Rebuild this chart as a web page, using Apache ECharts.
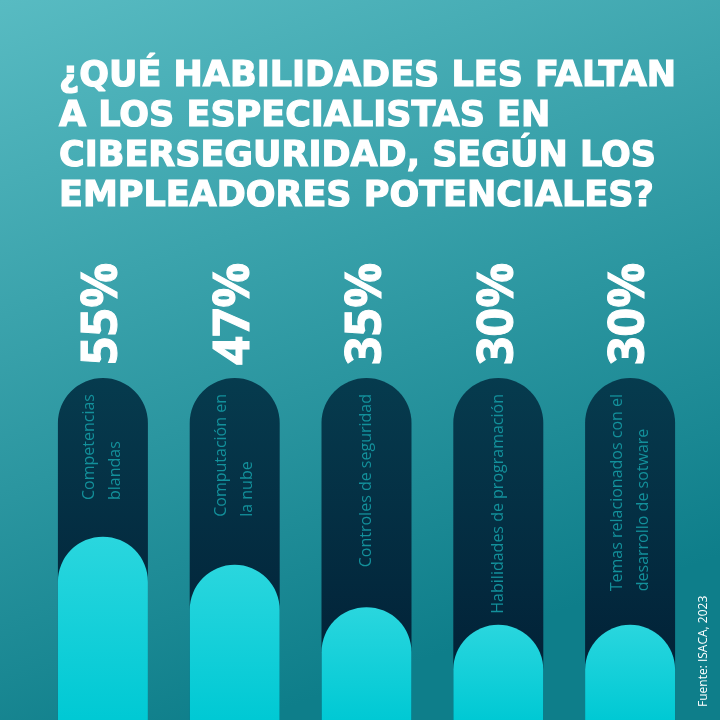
<!DOCTYPE html>
<html>
<head>
<meta charset="utf-8">
<script src="https://cdn.jsdelivr.net/npm/echarts@6/dist/echarts.min.js"></script>
<style>html,body{margin:0;padding:0;}#c{width:720px;height:720px;}</style>
</head>
<body>
<div id="c"></div>
<script>
const titleText = '¿QUÉ HABILIDADES LES FALTAN\nA LOS ESPECIALISTAS EN\nCIBERSEGURIDAD, SEGÚN LOS\nEMPLEADORES POTENCIALES?';
const categoryLines = [
  ['Competencias', 'blandas'],
  ['Computación en', 'la nube'],
  ['Controles de seguridad'],
  ['Habilidades de programación'],
  ['Temas relacionados con el', 'desarrollo de sotware']
];
const values = [55, 47, 35, 30, 30];
const fullValue = [100, 100, 100, 100, 100];
const sourceText = 'Fuente: ISACA, 2023';

const categories = categoryLines.map(l => l.join(' '));
const chart = echarts.init(document.getElementById('c'));
const FONT = '"Open Sans", "Noto Sans", sans-serif';
const TFONT = '"DejaVu Sans", sans-serif';

chart.setOption({
  animation: false,
  backgroundColor: new echarts.graphic.LinearGradient(0, 0, 0.35, 1, [
    { offset: 0, color: '#58bbc2' },
    { offset: 1, color: '#0e7e8a' }
  ]),
  title: {
    text: titleText,
    left: 54,
    top: 52,
    textStyle: {
      color: '#ffffff',
      fontFamily: TFONT,
      fontWeight: 'bold',
      fontSize: 35,
      lineHeight: 40,
      textBorderColor: '#ffffff',
      textBorderWidth: 1.2
    }
  },
  grid: { left: 37, top: 378, width: 659, bottom: 0 },
  xAxis: {
    type: 'category',
    data: categories,
    show: false
  },
  yAxis: { type: 'value', min: 3, max: 100, show: false },
  series: [
    {
      type: 'bar',
      data: fullValue,
      barWidth: 90,
      barGap: '-100%',
      z: 1,
      itemStyle: {
        borderRadius: [45, 45, 0, 0],
        color: new echarts.graphic.LinearGradient(0, 0, 0, 1, [
          { offset: 0, color: '#063b4e' },
          { offset: 1, color: '#011d33' }
        ])
      },
      label: {
        show: true,
        position: 'top',
        distance: 13,
        rotate: 90,
        align: 'left',
        verticalAlign: 'middle',
        formatter: p => values[p.dataIndex] + '%',
        color: '#ffffff',
        fontFamily: FONT,
        fontWeight: 'bold',
        fontSize: 50,
        textBorderColor: '#ffffff',
        textBorderWidth: 1
      }
    },
    {
      type: 'bar',
      data: values,
      barWidth: 90,
      barGap: '-100%',
      z: 2,
      itemStyle: {
        borderRadius: [45, 45, 0, 0],
        color: new echarts.graphic.LinearGradient(0, 0, 0, 1, [
          { offset: 0, color: '#2ad6de' },
          { offset: 1, color: '#00c9d4' }
        ])
      }
    },
    {
      type: 'bar',
      data: fullValue,
      barWidth: 90,
      barGap: '-100%',
      z: 3,
      itemStyle: { color: 'rgba(0,0,0,0)' },
      label: {
        show: true,
        position: 'insideTop',
        distance: 16,
        rotate: 90,
        align: 'right',
        verticalAlign: 'middle',
        formatter: p => categoryLines[p.dataIndex].map(s => '{a|' + s + '}').join('\n'),
        rich: {
          a: {
            align: 'left',
            color: '#13909b',
            fontFamily: FONT,
            fontSize: 16,
            lineHeight: 26
          }
        }
      }
    }
  ],
  graphic: [
    {
      type: 'text',
      x: 704,
      y: 707,
      rotation: Math.PI / 2,
      style: {
        text: sourceText,
        fill: '#ffffff',
        font: '12px ' + FONT,
        textAlign: 'left',
        textVerticalAlign: 'middle'
      }
    }
  ]
});
</script>
</body>
</html>
